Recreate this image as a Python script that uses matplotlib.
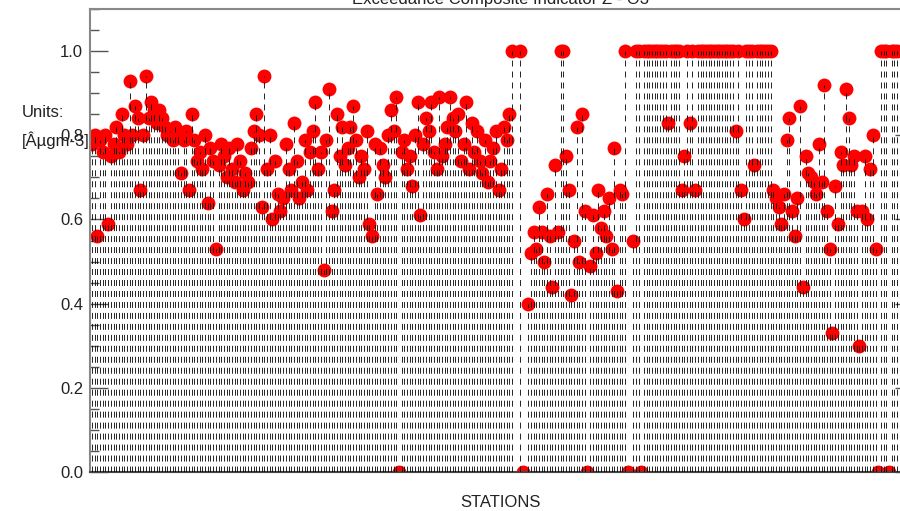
import numpy as np
import matplotlib.pyplot as plt
from matplotlib.ticker import MultipleLocator

plt.rcParams['font.family'] = ['Liberation Sans', 'DejaVu Sans']
plt.rcParams['lines.scale_dashes'] = False

nan = np.nan

# composite indicator per station (nan = no data)
values = [
    0.78, 0.80, 0.56, 0.79, 0.76, 0.80, 0.59, 0.75, 0.78, 0.82,
    0.76, 0.85, 0.80, 0.78, 0.93, 0.80, 0.87, 0.84, 0.67, 0.80,
    0.94, 0.84, 0.88, 0.86, 0.83, 0.86, 0.84, 0.82, 0.80, 0.81,
    0.79, 0.82, 0.80, 0.71, 0.79, 0.81, 0.67, 0.85, 0.79, 0.74,
    0.76, 0.72, 0.80, 0.64, 0.77, 0.74, 0.53, 0.73, 0.78, 0.75,
    0.70, 0.77, 0.72, 0.69, 0.78, 0.74, 0.67, 0.71, 0.69, 0.77,
    0.81, 0.85, 0.80, 0.63, 0.94, 0.72, 0.80, 0.60, 0.74, 0.66,
    0.62, 0.65, 0.78, 0.72, 0.67, 0.83, 0.74, 0.65, 0.69, 0.79,
    0.67, 0.76, 0.81, 0.88, 0.72, 0.76, 0.48, 0.79, 0.91, 0.62,
    0.67, 0.85, 0.75, 0.82, 0.73, 0.77, 0.82, 0.87, 0.79, 0.70,
    0.75, 0.72, 0.81, 0.59, 0.56, 0.78, 0.66, 0.77, 0.73, 0.70,
    0.80, 0.86, 0.81, 0.89, 0.00, 0.76, 0.79, 0.72, 0.75, 0.68,
    0.80, 0.88, 0.61, 0.78, 0.84, 0.81, 0.88, 0.76, 0.72, 0.89,
    0.75, 0.78, 0.82, 0.89, 0.84, 0.81, 0.85, 0.74, 0.78, 0.88,
    0.72, 0.83, 0.76, 0.81, 0.74, 0.71, 0.79, 0.69, 0.74, 0.77,
    0.81, 0.67, 0.72, 0.82, 0.79, 0.85, 1.00, nan, nan, 1.00,
    0.00, nan, 0.40, 0.52, 0.57, 0.53, 0.63, 0.57, 0.50, 0.66,
    0.56, 0.44, 0.73, 0.57, 1.00, 1.00, 0.75, 0.67, 0.42, 0.55,
    0.82, 0.50, 0.85, 0.62, 0.00, 0.49, 0.61, 0.52, 0.67, 0.58,
    0.62, 0.56, 0.65, 0.53, 0.77, 0.43, 0.67, 0.66, 1.00, 0.00,
    nan, 0.55, 1.00, 1.00, 0.00, 1.00, 1.00, 1.00, 1.00, 1.00,
    1.00, 1.00, 1.00, 1.00, 0.83, 1.00, 1.00, 1.00, 1.00, 0.67,
    0.75, 1.00, 0.83, 1.00, 0.67, 1.00, 1.00, 1.00, 1.00, 1.00,
    1.00, 1.00, 1.00, 1.00, 1.00, 1.00, 1.00, 1.00, 1.00, 0.81,
    1.00, 0.67, 0.60, 1.00, 1.00, 1.00, 0.73, 1.00, 1.00, 1.00,
    1.00, 1.00, 1.00, 0.67, 0.65, 0.63, 0.59, 0.66, 0.79, 0.84,
    0.62, 0.56, 0.65, 0.87, 0.44, 0.75, 0.71, 0.70, 0.69, 0.66,
    0.78, 0.69, 0.92, 0.62, 0.53, 0.33, 0.68, 0.59, 0.76, 0.73,
    0.91, 0.84, 0.73, 0.75, 0.62, 0.30, 0.62, 0.75, 0.60, 0.72,
    0.80, 0.53, 0.00, 1.00, 1.00, 1.00, 0.00, 1.00, 1.00, 1.00,
]
stations = np.arange(len(values))
vals = np.array(values)

fig = plt.figure(figsize=(9, 5.11), dpi=100)
ax = fig.add_axes([0.1, 0.0763, 0.9144, 0.906])

ok = ~np.isnan(vals)
ax.plot(stations[ok], vals[ok], 'o', color='#ff0000', markersize=10,
        markeredgewidth=0, zorder=2)
ax.vlines(stations[ok], 0, vals[ok], colors='black', linewidth=0.6,
          linestyles=(0, (4.3, 3.6)), zorder=3)

ax.set_xlim(-0.74, 304.9)
ax.set_ylim(0, 1.1)
ax.yaxis.set_major_locator(MultipleLocator(0.2))
ax.yaxis.set_minor_locator(MultipleLocator(0.05))
ax.set_yticks([0.0, 0.2, 0.4, 0.6, 0.8, 1.0])
ax.set_yticklabels(['0.0', '0.2', '0.4', '0.6', '0.8', '1.0'])
ax.tick_params(axis='y', which='major', direction='in', length=13, width=1,
               color='#555555', labelsize=12, labelcolor='#222222', pad=5,
               right=True)
ax.tick_params(axis='y', which='minor', direction='in', length=6.5, width=1,
               color='#555555')
ax.set_xticks([])

for s in ['left', 'top', 'right']:
    ax.spines[s].set_color('#888888')
    ax.spines[s].set_linewidth(1.5)
ax.spines['bottom'].set_color('#444444')
ax.spines['bottom'].set_linewidth(1.5)

fig.text(0.024, 0.779, 'Units:', fontsize=12, color='#222222', va='center')
fig.text(0.024, 0.726, '[Âµgm-3]', fontsize=12, color='#222222', va='center')
fig.text(0.556, 0.016, 'STATIONS', fontsize=12, color='#222222', ha='center',
         va='center')
fig.text(0.556, 0.993, 'Exceedance Composite Indicator Z - O3', fontsize=12,
         color='#222222', ha='center', va='baseline')

fig.savefig('out.png', dpi=100)
